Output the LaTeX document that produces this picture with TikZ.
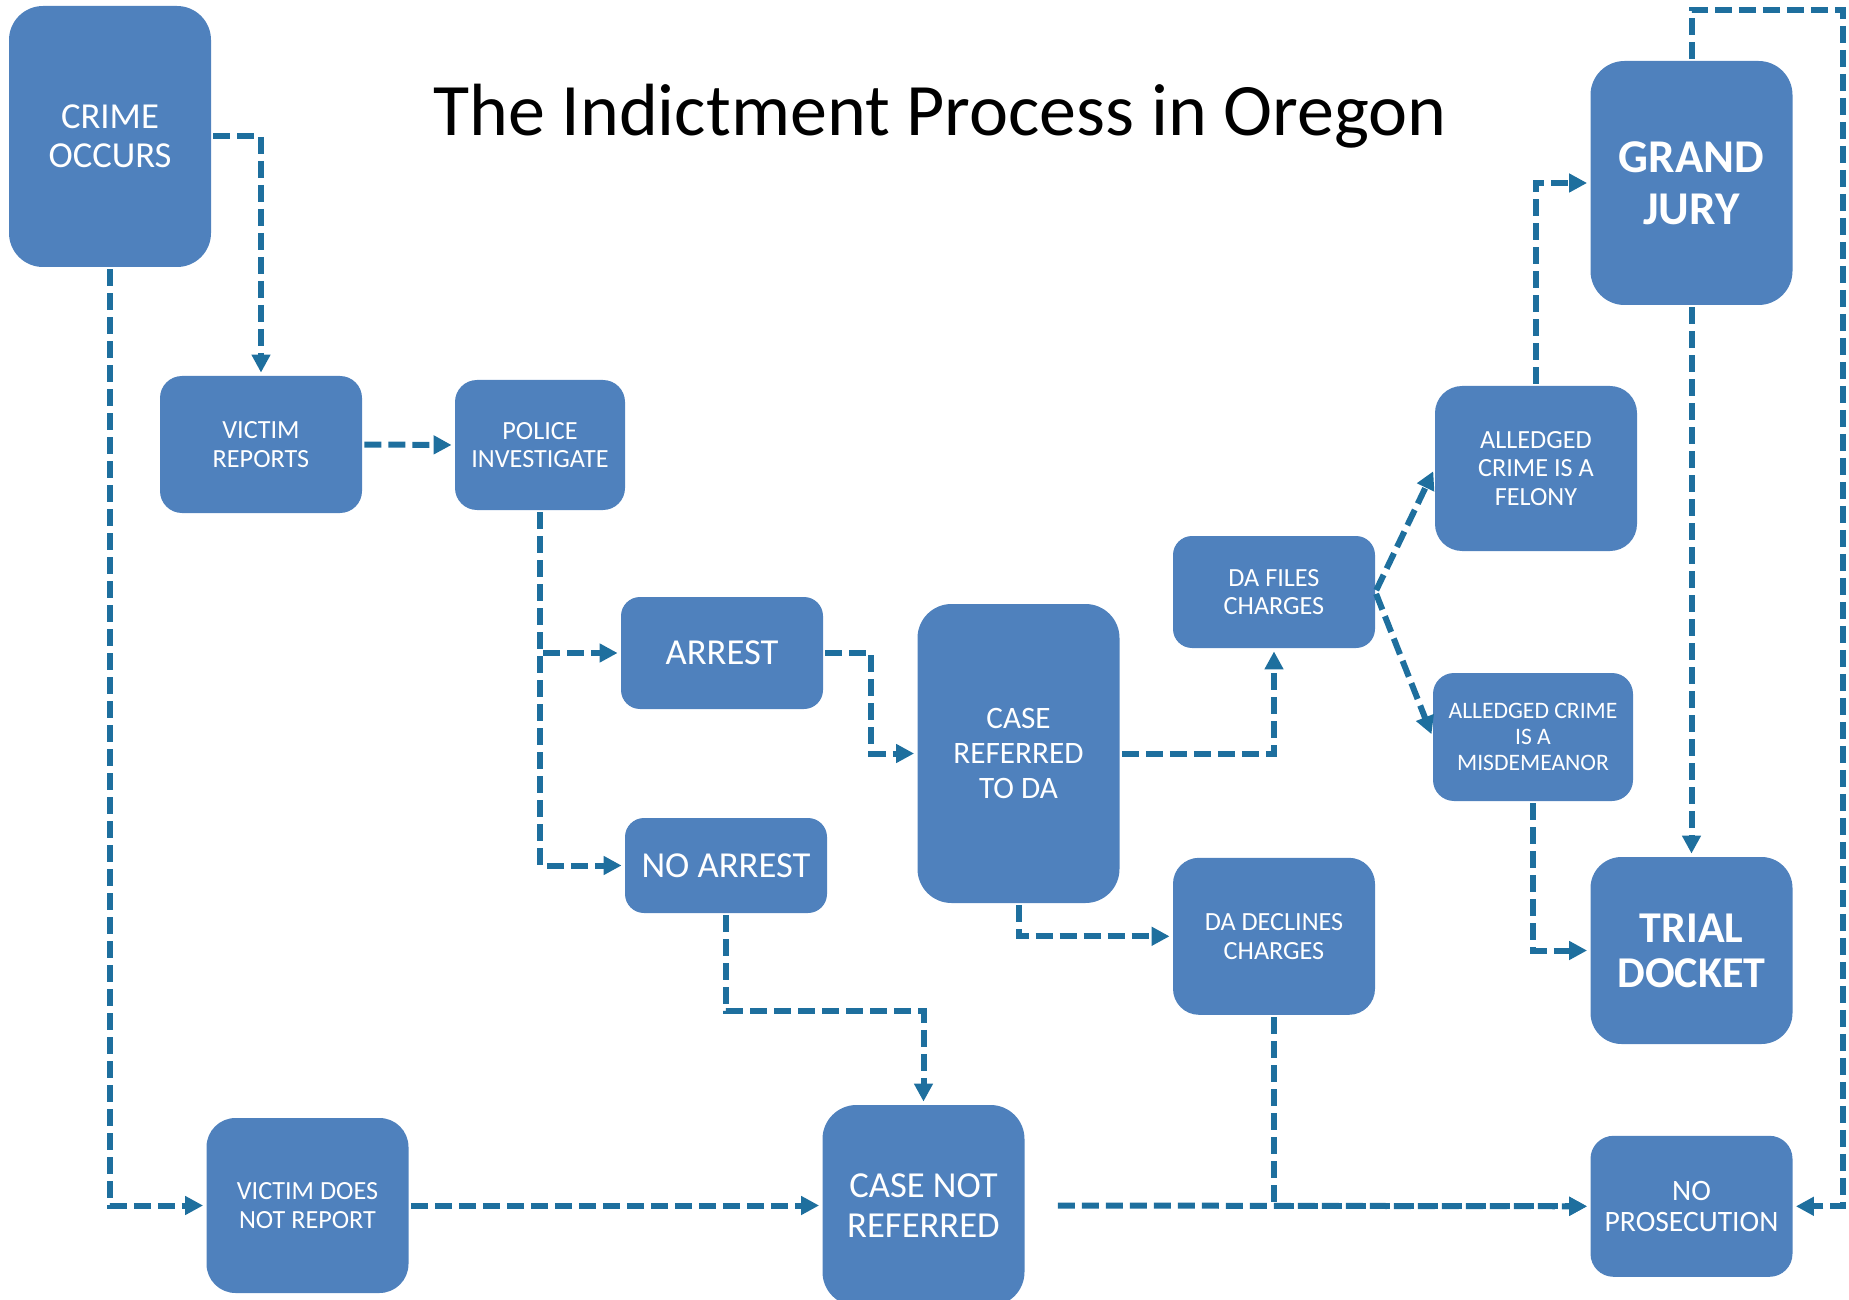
\documentclass[tikz,border=0pt]{standalone}
\usepackage{fontspec}
\setmainfont{Carlito}
\usetikzlibrary{arrows.meta,positioning}
\definecolor{boxblue}{RGB}{79,129,189}
\definecolor{flowblue}{RGB}{30,111,158}

\begin{document}
\begin{tikzpicture}
  [
    x=0.5pt, y=-0.5pt,
    stage/.style={rectangle, rounded corners=#1, fill=boxblue, text=white,
      inner sep=0pt, align=center, minimum width=101pt},
    stage/.default=11pt,
    flow/.style={draw=flowblue, line width=3pt, dash pattern=on 8.5pt off 3.5pt,
      -{Triangle[length=9pt,width=9pt]}, shorten >=1.5pt, shorten <=1pt},
    smalltext/.style={font=\fontsize{13.1}{14.4}\selectfont},
    midtext/.style={font=\fontsize{15.6}{17.5}\selectfont},
    bigtext/.style={font=\fontsize{18.3}{19.5}\selectfont}
  ]
  \useasboundingbox (0,0) rectangle (1849,1300);

  \node[anchor=base, font=\fontsize{37}{40}\selectfont] (title) at (940,136)
    {The Indictment Process in Oregon};

  % left column
  \node[stage=17pt, minimum height=130.5pt, bigtext] (crime) at (110,136.5) {CRIME\\OCCURS};
  \node[stage, minimum height=68.5pt, smalltext] (victim) at (261,444.5) {VICTIM\\REPORTS};
  \node[stage, minimum width=85pt, minimum height=65pt, smalltext] (police) at (540,445) {POLICE\\INVESTIGATE};
  \node[stage=14.5pt, minimum height=87.5pt, smalltext] (notreport) at (307.5,1205.5) {VICTIM DOES\\NOT REPORT};

  % middle
  \node[stage=9.5pt, minimum height=56pt, bigtext] (arrest) at (722,653) {ARREST};
  \node[stage=9.5pt, minimum height=47.5pt, bigtext] (noarrest) at (726,865.5) {NO ARREST};
  \node[stage=17pt, minimum height=149.5pt, midtext] (referred) at (1018.5,753.5) {CASE\\REFERRED\\TO DA};
  \node[stage=17pt, minimum height=100.5pt, font=\fontsize{18.3}{20}\selectfont] (notreferred) at (923.5,1205.5) {CASE NOT\\REFERRED};
  \node[stage=9.5pt, minimum height=56pt, smalltext] (files) at (1274,592) {DA FILES\\CHARGES};
  \node[stage=13pt, minimum height=78.5pt, smalltext] (declines) [below = 104.5pt of files] {DA DECLINES\\CHARGES};

  % right
  \node[stage=13.5pt, minimum height=82.5pt, smalltext] (felony) at (1536,468.5) {ALLEDGED\\CRIME IS A\\FELONY};
  \node[stage=10.5pt, minimum width=100pt, minimum height=64pt, font=\fontsize{11.8}{13}\selectfont] (misdemeanor) at (1533,737) {ALLEDGED CRIME\\IS A\\MISDEMEANOR};
  \node[stage=17pt, minimum height=122pt, font=\fontsize{23.5}{26}\selectfont\bfseries] (grandjury) at (1691.5,183) {GRAND\\JURY};
  \node[stage=15.5pt, minimum height=93.5pt, font=\fontsize{22}{22.5}\selectfont\bfseries] (trialdocket) at (1691.5,950.5) {TRIAL\\DOCKET};
  \node[stage=11.5pt, minimum height=70.5pt, font=\fontsize{14.8}{15.5}\selectfont] (noprosecution) [below = 45.5pt of trialdocket] {NO\\PROSECUTION};

  \coordinate (corner) at (1843,10);

  \draw[flow] (crime.east) -| (victim.north);
  \draw[flow] (crime.south) |- (notreport.west);
  \draw[flow] (victim.east) -- (police.west);
  \draw[flow] (police.south) |- (arrest.west);
  \draw[flow] (police.south) |- (noarrest.west);
  \draw[flow] (arrest.east) -- ++(48,0) |- (referred.west);
  \draw[flow] (noarrest.south) -- ++(0,98) -| (notreferred.north);
  \draw[flow] (notreport.east) -- (notreferred.west);
  \draw[flow] (referred.east) -| (files.south);
  \draw[flow] (referred.south) |- (declines.west);
  \draw[flow] (files.east) -- (felony.west);
  \draw[flow] (files.east) -- (misdemeanor.west);
  \draw[flow] (felony.north) |- (grandjury.west);
  \draw[flow] (grandjury.south) -- (trialdocket.north);
  \draw[flow] (misdemeanor.south) |- (trialdocket.west);
  \draw[flow] (grandjury.north) |- (corner) |- (noprosecution.east);
  \draw[flow] ([xshift=15.5pt]notreferred.east) -- (noprosecution.west);
  \draw[flow] (declines.south) |- (noprosecution.west);
\end{tikzpicture}
\end{document}
